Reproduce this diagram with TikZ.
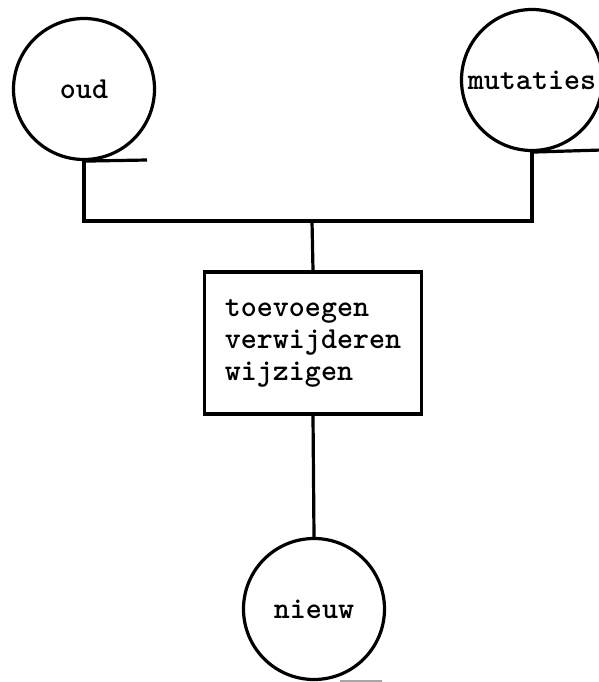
\documentclass[tikz,border=0pt]{standalone}
\begin{document}
\begin{tikzpicture}[x=1pt,y=-1pt,
  every node/.style={font=\ttfamily\bfseries\fontsize{30.5}{32}\selectfont},
  rond/.style={draw,circle,line width=3.2pt,inner sep=0pt,minimum size=141pt},
  kader/.style={draw,rectangle,line width=3.2pt,minimum width=217pt,minimum height=142pt,align=left,inner sep=0pt},
  lijn/.style={line width=3.2pt}]
\useasboundingbox (0,0) rectangle (599,682);
\node[rond] (oud) at (84,89) {oud};
\node[rond] (mut) at (532,80) {mutaties};
\node[kader] (box) at (313,343) {toevoegen\\verwijderen\\wijzigen};
\node[rond] (nieuw) at (314,609) {nieuw};
\coordinate (j) at (312,221);
\coordinate (ot) at (147,160);
\coordinate (mt) at (602,150);
\coordinate (nt) at (382,681);
\draw[lijn] (oud.south) -- (ot);
\draw[lijn] (mut.south) -- (mt);
\draw[lijn] (oud.south) -- (oud.south |- j) -- (mut.south |- j) -- (mut.south);
\draw[lijn] (j) -- (box.north);
\draw[lijn] (box.south) -- (nieuw.north);
\draw[line width=2pt,black!35] (nieuw.south -| 340,0) -- (nt);
\end{tikzpicture}
\end{document}
